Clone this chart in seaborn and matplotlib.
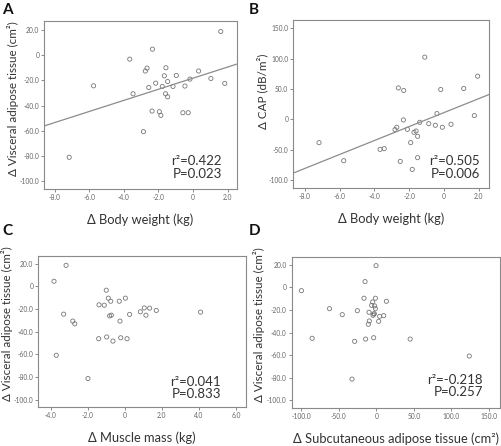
import seaborn as sns
import matplotlib.pyplot as plt
import pandas as pd

# panel A: body weight change vs visceral adipose tissue change
bw_a = [-7.16, -5.75, -3.66, -3.47, 1.60, -2.35, -2.76, -2.66, -1.57, -1.66,
        -0.97, 0.32, -0.18, 1.03, 1.83, -2.16, -1.47, -2.56, -1.78, -1.16,
        -0.47, -1.59, -1.47, -2.37, -1.95, -1.86, -0.59, -0.28, -2.87]
vat_a = [-80.9, -24.3, -3.2, -30.6, 18.7, 4.7, -12.6, -10.3, -10.0, -16.4,
         -16.1, -12.6, -19.0, -18.5, -22.4, -22.2, -20.9, -25.6, -24.8, -24.8,
         -24.5, -30.6, -33.0, -44.3, -44.8, -47.7, -45.6, -45.6, -60.6]

# panel B: body weight change vs CAP change
bw_b = [-7.18, -5.76, -3.67, -3.43, -1.10, 1.94, -2.62, -2.31, -0.18, 1.14,
        -0.40, 1.75, -2.33, -1.39, -0.87, -0.49, -0.09, 0.41, -2.71, -2.81,
        -2.10, -1.72, -1.60, -1.51, -1.91, -1.51, -2.51, -1.82]
cap_b = [-38.6, -68.4, -49.7, -48.5, 102.6, 71.2, 51.8, 47.5, 49.2, 50.8,
         9.4, 6.1, -1.1, -5.0, -7.2, -9.9, -13.2, -8.3, -13.2, -17.1,
         -16.6, -21.5, -19.4, -28.1, -38.6, -63.4, -69.5, -82.8]

# panel C: muscle mass change vs visceral adipose tissue change
mm_c = [-3.17, -3.82, -3.30, -2.81, -2.70, -3.70, -1.99, -1.00, -1.39, -1.11,
        -0.89, -0.76, -0.30, 0.03, -0.82, -0.73, -0.26, 0.26, -1.41, -0.98,
        -0.64, -0.22, 0.12, 0.84, 1.05, 1.14, 1.34, 1.70, 4.09]
vat_c = [18.5, 4.5, -24.5, -30.6, -33.0, -60.7, -81.2, -3.4, -16.3, -16.6,
         -10.4, -13.1, -13.1, -10.4, -26.0, -25.4, -30.6, -24.7, -46.1, -44.6,
         -48.2, -45.3, -46.1, -22.4, -19.0, -25.4, -19.2, -21.2, -22.7]

# panel D: subcutaneous adipose tissue change vs visceral adipose tissue change
sat_d = [-100.0, -62.5, -45.5, -85.7, -25.4, -29.0, -32.5, -15.1, -16.5, -0.4,
         -1.3, -4.9, -9.8, -6.3, -2.3, -1.3, -3.6, -4.4, -2.7, -9.4,
         -10.7, 3.1, 4.4, 9.8, 13.4, -14.3, -3.6, 45.1, 124.0]
vat_d = [-3.0, -18.9, -24.2, -45.1, -20.7, -47.8, -81.2, 5.0, -9.7, 19.1,
         -9.7, -13.0, -22.1, -16.0, -16.5, -18.9, -23.6, -24.8, -23.4, -29.8,
         -32.7, -30.1, -25.7, -25.1, -12.4, -45.8, -44.6, -45.8, -60.8]

vat_ticks = [20, 0, -20, -40, -60, -80, -100]
bw_ticks = [-8, -6, -4, -2, 0, 2]
cap_ticks = [150, 100, 50, 0, -50, -100]
mm_ticks = [-4, -2, 0, 2, 4, 6]
sat_ticks = [-100, -50, 0, 50, 100, 150]

stats = ["r²=0.422\nP=0.023", "r²=0.505\nP=0.006",
         "r²=0.041\nP=0.833", "r²=-0.218\nP=0.257"]

sns.set_theme(style="white")
plt.rcParams['font.family'] = ['Lato', 'DejaVu Sans']

fig = plt.figure(figsize=(5.01, 4.46), dpi=100)


def fmt(v):
    return "0" if v == 0 else f"{v:.1f}"


def style_axes(ax, xt, yt, xlim, ylim):
    ax.set_xlim(*xlim)
    ax.set_ylim(*ylim)
    ax.set_xticks(xt)
    ax.set_xticklabels([fmt(v) for v in xt])
    ax.set_yticks(yt)
    ax.set_yticklabels([fmt(v) for v in yt])
    ax.tick_params(axis="both", which="both", direction="out", length=2.5, width=0.6,
                   labelsize=4.8, labelcolor="#666666", color="#777777", pad=1.2,
                   bottom=True, left=True)
    for sp in ax.spines.values():
        sp.set_color("#8a8a8a")
        sp.set_linewidth(0.8)


def scatter(ax, x, y):
    df = pd.DataFrame({"x": x, "y": y})
    sns.scatterplot(data=df, x="x", y="y", ax=ax, s=9, facecolor="none",
                    edgecolor="#777777", linewidth=0.6)
    return df


panels = [
    ("A", [0.0884, 0.5762, 0.384, 0.3767], bw_a, vat_a, bw_ticks, vat_ticks,
     (-8.6, 2.52), (-106, 27), True, "Δ Body weight (kg)",
     "Δ Visceral adipose tissue (cm²)", (0.924, 0.054), (-0.163, 0.536)),
    ("B", [0.5854, 0.5778, 0.3912, 0.3774], bw_b, cap_b, bw_ticks, cap_ticks,
     (-8.66, 2.61), (-114, 164), True, "Δ Body weight (kg)",
     "Δ CAP (dB/m²)", (0.953, 0.05), (-0.155, 0.578)),
    ("C", [0.0764, 0.0881, 0.4146, 0.3386], mm_c, vat_c, mm_ticks, vat_ticks,
     (-4.67, 6.54), (-106, 27), False, "Δ Muscle mass (kg)",
     "Δ Visceral adipose tissue (cm²)", (0.88, 0.044), (-0.15, 0.55)),
    ("D", [0.5822, 0.0845, 0.4158, 0.3399], sat_d, vat_d, sat_ticks, vat_ticks,
     (-113, 165), (-107, 27), False, "Δ Subcutaneous adipose tissue (cm²)",
     "Δ Visceral adipose tissue (cm²)", (0.918, 0.068), (-0.155, 0.55)),
]

label_pos = {"A": (0.004, 0.993), "B": (0.497, 0.993),
             "C": (0.004, 0.497), "D": (0.497, 0.497)}

for i, (name, rect, x, y, xt, yt, xlim, ylim, fit, xl, yl, tpos, ypos) in enumerate(panels):
    ax = fig.add_axes(rect)
    ax.set_xlim(*xlim)
    df = scatter(ax, x, y)
    if fit:
        sns.regplot(data=df, x="x", y="y", ax=ax, scatter=False, ci=None,
                    truncate=False, line_kws={"color": "#8c8c8c", "linewidth": 0.9})
    style_axes(ax, xt, yt, xlim, ylim)
    ax.set_xlabel(xl, fontsize=9.3, color="#333333", labelpad=9)
    ax.set_ylabel(yl, fontsize=8.4, color="#333333", va="center")
    ax.yaxis.set_label_coords(*ypos)
    ax.text(tpos[0], tpos[1], stats[i], transform=ax.transAxes, ha="right",
            va="bottom", fontsize=9.5, color="#333333", linespacing=1.05)
    fig.text(label_pos[name][0], label_pos[name][1], name, fontsize=11,
             fontweight="bold", va="top", ha="left", color="#111111")

fig.savefig("out.png", dpi=100)
